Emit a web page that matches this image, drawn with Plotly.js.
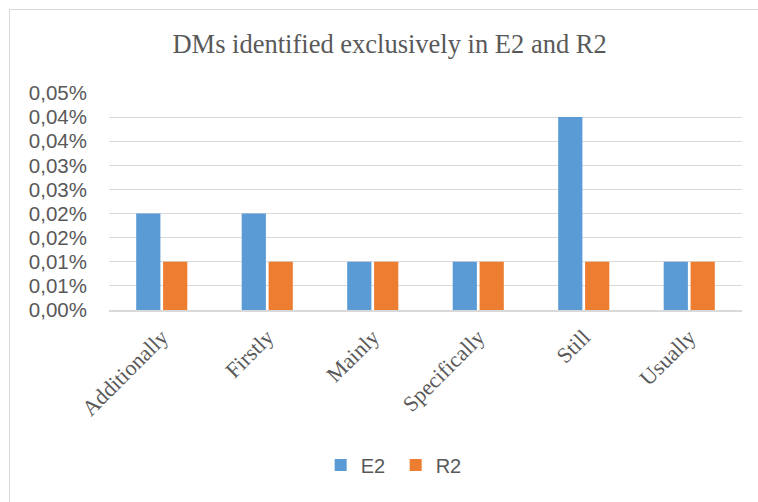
<!DOCTYPE html>
<html>
<head>
<meta charset="utf-8">
<script src="https://cdn.plot.ly/plotly-3.0.1.min.js"></script>
<style>
  html, body { margin: 0; padding: 0; overflow: hidden; background: #fff; }
  #wrap { position: relative; width: 758px; height: 502px; }
  #chart { position: absolute; left: 0; top: 0; width: 758px; height: 502px; }
  #frame { position: absolute; left: 9px; top: 9px; width: 800px; height: 600px;
           border-left: 1.5px solid #d9d9d9; border-top: 1.5px solid #d9d9d9; pointer-events: none; }
</style>
</head>
<body>
<div id="wrap"><div id="chart"></div><div id="frame"></div></div>
<script>
const categories = ["Additionally", "Firstly", "Mainly", "Specifically", "Still", "Usually"];
const e2Values = [0.00020, 0.00020, 0.00010, 0.00010, 0.00040, 0.00010];
const r2Values = [0.00010, 0.00010, 0.00010, 0.00010, 0.00010, 0.00010];
const tickValues = [0, 0.00005, 0.00010, 0.00015, 0.00020, 0.00025, 0.00030, 0.00035, 0.00040, 0.00045];
const tickLabels = ["0,00%", "0,01%", "0,01%", "0,02%", "0,02%", "0,03%", "0,03%", "0,04%", "0,04%", "0,05%"];

const traces = [
  { type: "bar", name: "E2", x: categories, y: e2Values, marker: { color: "#5B9BD5" }, hoverinfo: "skip" },
  { type: "bar", name: "R2", x: categories, y: r2Values, marker: { color: "#ED7D31" }, hoverinfo: "skip" }
];

const layout = {
  width: 758, height: 502,
  margin: { l: 109, r: 16, t: 93, b: 192 },
  paper_bgcolor: "#fff", plot_bgcolor: "#fff",
  barmode: "group", bargap: 0.49, bargroupgap: 0.1,
  title: {
    text: "DMs identified exclusively in E2 and R2",
    font: { family: "Liberation Serif, Times New Roman, serif", size: 26.5, color: "#595959" },
    xref: "container", x: 0.514, xanchor: "center",
    yref: "container", y: 0.912, yanchor: "middle"
  },
  xaxis: {
    type: "category",
    tickangle: -45,
    tickfont: { family: "Liberation Serif, Times New Roman, serif", size: 22, color: "#595959" },
    showgrid: false, showline: true, linecolor: "#d9d9d9", linewidth: 1.5,
    ticks: "", zeroline: false, ticklabelstandoff: 4
  },
  yaxis: {
    range: [0, 0.00045],
    tickmode: "array", tickvals: tickValues, ticktext: tickLabels,
    tickfont: { family: "Liberation Sans, Arial, sans-serif", size: 20.5, color: "#595959" },
    showgrid: true, gridcolor: "#d9d9d9", gridwidth: 1,
    zeroline: false, showline: false, ticks: "", ticklabelstandoff: 21
  },
  showlegend: true,
  legend: {
    orientation: "h",
    xref: "container", yref: "container",
    x: 0.522, xanchor: "center", y: 1 - 465 / 502, yanchor: "middle",
    font: { family: "Liberation Sans, Arial, sans-serif", size: 20, color: "#595959" },
    itemwidth: 30, entrywidth: 30, traceorder: "normal"
  }
};

Plotly.newPlot("chart", traces, layout, { displayModeBar: false, staticPlot: true });
</script>
</body>
</html>
